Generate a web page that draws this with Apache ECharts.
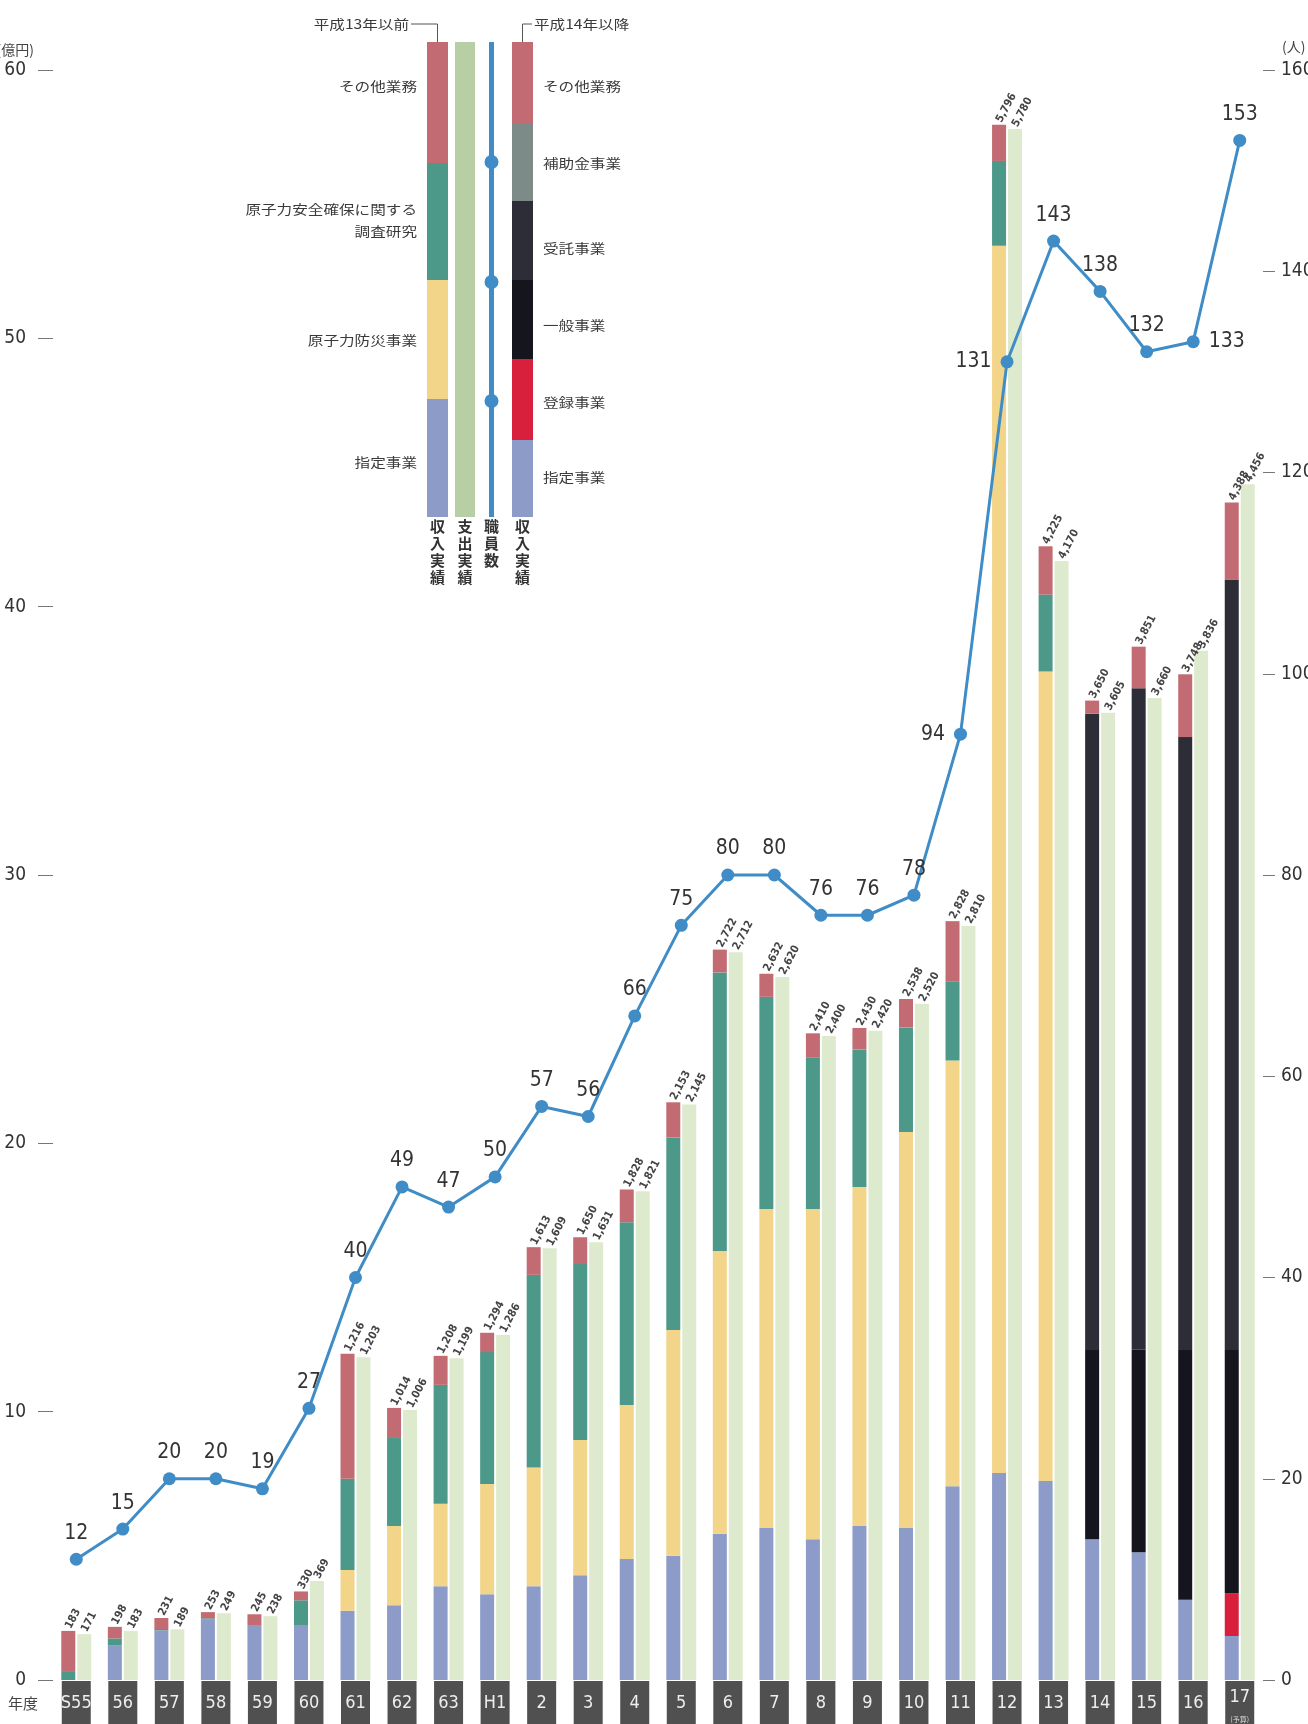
<!DOCTYPE html>
<html>
<head>
<meta charset="utf-8">
<script src="https://cdn.jsdelivr.net/npm/echarts/dist/echarts.min.js"></script>
<style>
html,body{margin:0;padding:0;background:#fff;}
#chart{width:1308px;height:1724px;}
</style>
</head>
<body>
<div id="chart"></div>
<script>
// 年度
const years = ['S55','56','57','58','59','60','61','62','63','H1','2','3','4','5','6','7','8','9','10','11','12','13','14','15','16','17'];

// 収入実績（百万円）の内訳
const shitei   = [0,130,185,225,205,205,258,279,349,320,349,390,451,463,545,566,525,574,566,722,771,742,525,476,299,164];
const bousai   = [0,0,0,0,0,0,152,295,308,410,443,504,574,841,1054,1189,1230,1263,1476,1587,4574,3016,0,0,0,0];
const chousa   = [30,25,5,5,0,92,340,328,443,492,718,656,681,718,1038,791,566,513,390,295,316,287,0,0,0,0];
const touroku  = [0,0,0,0,0,0,0,0,0,0,0,0,0,0,0,0,0,0,0,0,0,0,0,0,0,160];
const ippan    = [0,0,0,0,0,0,0,0,0,0,0,0,0,0,0,0,0,0,0,0,0,0,705,755,931,906];
const jutaku   = [0,0,0,0,0,0,0,0,0,0,0,0,0,0,0,0,0,0,0,0,0,0,2371,2465,2284,2871];
const sonota   = [153,43,41,23,40,33,466,112,108,72,103,100,122,131,85,86,89,80,106,224,135,180,49,155,234,287];

// 支出実績（百万円）
const shishutsu = [171,183,189,249,238,369,1203,1006,1199,1286,1609,1631,1821,2145,2712,2620,2400,2420,2520,2810,5780,4170,3605,3660,3836,4456];

// 職員数（人）
const staff = [12,15,20,20,19,27,40,49,47,50,57,56,66,75,80,80,76,76,78,94,131,143,138,132,133,153];

// 左目盛（億円）・右目盛（人）
const leftTicks = [0,10,20,30,40,50,60];
const rightTicks = [0,20,40,60,80,100,120,140,160];

const C = {
  blue:'#8c9bc8', yellow:'#f3d58a', teal:'#4d9989', other:'#c36b73',
  touroku:'#d8203c', ippan:'#15151d', jutaku:'#2d2d38', hojo:'#7c8b87',
  exp:'#deeacd', expLegend:'#b8cfa6', line:'#3f8cc6', box:'#505050', text:'#333'
};
const NUM_FONT = "'Liberation Sans Narrow','DejaVu Sans Condensed','Roboto',sans-serif";
const JP_FONT = "'Noto Sans CJK JP','Noto Sans',sans-serif";

const fmt = n => String(n).replace(/\B(?=(\d{3})+(?!\d))/g, ',');
const incomeTotal = years.map((_, i) =>
  shitei[i] + bousai[i] + chousa[i] + touroku[i] + ippan[i] + jutaku[i] + sonota[i]);

// 職員数ラベルの位置（点と重なる箇所だけ左右へ）
const staffLabelPos = {19:'left', 20:'left', 24:'right'};

const barLabel = {
  show: true, position: 'top', rotate: 62, align: 'left', verticalAlign: 'middle',
  distance: 3, fontFamily: NUM_FONT, fontSize: 11, fontWeight: 'bold', color: '#444'
};

function incBar(name, data, color, extra) {
  return Object.assign({
    name, type: 'bar', stack: 'income', data, barWidth: 14, barGap: '14%',
    itemStyle: { color }, emphasis: { disabled: true }
  }, extra || {});
}

// 凡例
const legendText = (x, y, text, align) => ({
  type: 'text', x, y, scaleX: 1.2,
  style: { text, x: 0, y: 0, align, verticalAlign: 'middle', fill: '#3a3a3a',
           font: '13px ' + JP_FONT }
});
const vText = (x, text) => ({
  type: 'text', x, y: 518,
  style: { text: text.split('').join('\n'), align: 'center', verticalAlign: 'top',
           fill: '#333', font: 'bold 15px ' + JP_FONT, lineHeight: 17 }
});
const seg = (x, y0, y1, fill, w) => ({
  type: 'rect', shape: { x, y: y0, width: w || 21, height: y1 - y0 }, style: { fill }
});
const plainText = (x, y, text, align, size) => ({
  type: 'text', x, y,
  style: { text, align, verticalAlign: 'middle', fill: '#444', font: size + 'px ' + JP_FONT }
});

const legendGraphics = [
  seg(427, 42, 163, C.other), seg(427, 163, 280, C.teal),
  seg(427, 280, 399, C.yellow), seg(427, 399, 517, C.blue),
  seg(455, 42, 517, C.expLegend, 20),
  seg(489, 42, 517, C.line, 5),
  { type: 'circle', shape: { cx: 491.5, cy: 162, r: 7 }, style: { fill: C.line } },
  { type: 'circle', shape: { cx: 491.5, cy: 282, r: 7 }, style: { fill: C.line } },
  { type: 'circle', shape: { cx: 491.5, cy: 401, r: 7 }, style: { fill: C.line } },
  seg(512, 42, 123, C.other), seg(512, 123, 201, C.hojo), seg(512, 201, 280, C.jutaku),
  seg(512, 280, 359, C.ippan), seg(512, 359, 440, C.touroku), seg(512, 440, 517, C.blue),
  { type: 'polyline', shape: { points: [[411, 24], [437.5, 24], [437.5, 42]] },
    style: { stroke: '#555', lineWidth: 1, fill: null } },
  { type: 'polyline', shape: { points: [[522.5, 42], [522.5, 24], [532, 24]] },
    style: { stroke: '#555', lineWidth: 1, fill: null } },
  legendText(409, 24, '平成13年以前', 'right'),
  legendText(534, 24, '平成14年以降', 'left'),
  legendText(417, 86, 'その他業務', 'right'),
  legendText(417, 209, '原子力安全確保に関する', 'right'),
  legendText(417, 231, '調査研究', 'right'),
  legendText(417, 340, '原子力防災事業', 'right'),
  legendText(417, 462, '指定事業', 'right'),
  legendText(543, 86, 'その他業務', 'left'),
  legendText(543, 163, '補助金事業', 'left'),
  legendText(543, 248, '受託事業', 'left'),
  legendText(543, 325, '一般事業', 'left'),
  legendText(543, 402, '登録事業', 'left'),
  legendText(543, 477, '指定事業', 'left'),
  vText(437.5, '収入実績'), vText(465, '支出実績'), vText(491.5, '職員数'), vText(522.5, '収入実績'),
  // 軸の単位と年度見出し
  plainText(34, 50, '(億円)', 'right', 14),
  plainText(1282, 47, '(人)', 'left', 14),
  plainText(8, 1703, '年度', 'left', 15)
];

const chart = echarts.init(document.getElementById('chart'), null, { renderer: 'canvas' });

chart.setOption({
  animation: false,
  backgroundColor: '#fff',
  grid: { left: 53, right: 45, top: 70, bottom: 44, containLabel: false, outerBoundsMode: 'none' },
  xAxis: {
    type: 'category', data: years,
    axisLine: { show: false }, axisTick: { show: false },
    axisLabel: {
      interval: 0, margin: 1, width: 29, height: 44, align: 'center',
      backgroundColor: C.box,
      formatter: v => v === '17' ? '{c|17}\n{d|(予算)}' : '{a|' + v + '}',
      rich: {
        a: { fontFamily: NUM_FONT, fontSize: 18, color: '#eee', lineHeight: 44, align: 'center' },
        c: { fontFamily: NUM_FONT, fontSize: 18, color: '#eee', lineHeight: 32, align: 'center' },
        d: { fontFamily: JP_FONT, fontSize: 7, color: '#ddd', lineHeight: 12, align: 'center' }
      }
    }
  },
  yAxis: [
    {
      type: 'value', min: 0, max: leftTicks[leftTicks.length - 1] * 100, interval: 1000,
      splitLine: { show: false }, axisLine: { show: false },
      axisTick: { show: true, length: 15, lineStyle: { color: '#777' } },
      axisLabel: { margin: 27, fontFamily: NUM_FONT, fontSize: 19, color: '#333',
                   formatter: v => String(v / 100) }
    },
    {
      type: 'value', min: 0, max: rightTicks[rightTicks.length - 1], interval: 20,
      position: 'right', splitLine: { show: false }, axisLine: { show: false },
      axisTick: { show: true, length: 12, lineStyle: { color: '#777' } },
      axisLabel: { margin: 18, fontFamily: NUM_FONT, fontSize: 19, color: '#333' }
    }
  ],
  series: [
    incBar('指定事業', shitei, C.blue),
    incBar('登録事業', touroku, C.touroku),
    incBar('一般事業', ippan, C.ippan),
    incBar('受託事業', jutaku, C.jutaku),
    incBar('原子力防災事業', bousai, C.yellow),
    incBar('原子力安全確保に関する調査研究', chousa, C.teal),
    incBar('その他業務', sonota, C.other, {
      label: Object.assign({}, barLabel, { formatter: p => fmt(incomeTotal[p.dataIndex]) })
    }),
    {
      name: '支出実績', type: 'bar', data: shishutsu, barWidth: 14, barGap: '14%',
      itemStyle: { color: C.exp }, emphasis: { disabled: true },
      label: Object.assign({}, barLabel, { formatter: p => fmt(p.value) })
    },
    {
      name: '職員数', type: 'line', yAxisIndex: 1, z: 10,
      data: staff.map((v, i) => ({
        value: v,
        label: { position: staffLabelPos[i] || 'top' }
      })),
      symbol: 'circle', symbolSize: 13,
      lineStyle: { color: C.line, width: 3 },
      itemStyle: { color: C.line },
      label: { show: true, distance: 9, fontFamily: NUM_FONT, fontSize: 21, color: '#333' },
      emphasis: { disabled: true }
    }
  ],
  graphic: legendGraphics
});
</script>
</body>
</html>
